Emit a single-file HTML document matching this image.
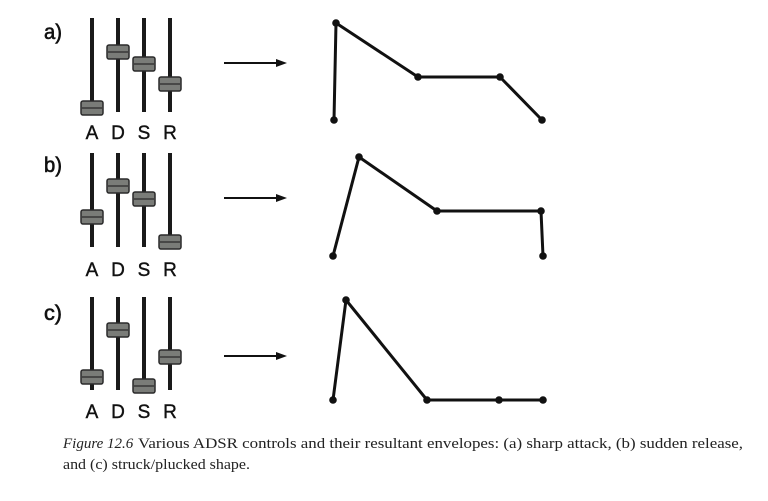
<!DOCTYPE html>
<html><head><meta charset="utf-8"><style>body{margin:0;background:#fff}svg{display:block}</style></head>
<body>
<svg width="768" height="501" viewBox="0 0 768 501" xmlns="http://www.w3.org/2000/svg">
<defs>
<g id="knob"><rect x="-11" y="-7" width="22" height="14" rx="2" fill="#7a7c78" stroke="#2a2a2a" stroke-width="1.5"/><line x1="-10" y1="0" x2="10" y2="0" stroke="#2a2a2a" stroke-width="1.2"/></g>
</defs>
<g font-family="Liberation Sans, sans-serif" font-size="21" fill="#111" stroke="#111" stroke-width="0.6">
<text x="44" y="39" textLength="18" lengthAdjust="spacingAndGlyphs">a)</text>
<text x="44" y="172" textLength="18" lengthAdjust="spacingAndGlyphs">b)</text>
<text x="44" y="320" textLength="18" lengthAdjust="spacingAndGlyphs">c)</text>
</g>
<g stroke="#1a1a1a" stroke-width="4">
<line x1="92" y1="18" x2="92" y2="112"/><line x1="118" y1="18" x2="118" y2="112"/><line x1="144" y1="18" x2="144" y2="112"/><line x1="170" y1="18" x2="170" y2="112"/>
<line x1="92" y1="153" x2="92" y2="247"/><line x1="118" y1="153" x2="118" y2="247"/><line x1="144" y1="153" x2="144" y2="247"/><line x1="170" y1="153" x2="170" y2="247"/>
<line x1="92" y1="297" x2="92" y2="390"/><line x1="118" y1="297" x2="118" y2="390"/><line x1="144" y1="297" x2="144" y2="390"/><line x1="170" y1="297" x2="170" y2="390"/>
</g>
<use href="#knob" x="92" y="108"/><use href="#knob" x="118" y="52"/><use href="#knob" x="144" y="64"/><use href="#knob" x="170" y="84"/>
<use href="#knob" x="92" y="217"/><use href="#knob" x="118" y="186"/><use href="#knob" x="144" y="199"/><use href="#knob" x="170" y="242"/>
<use href="#knob" x="92" y="377"/><use href="#knob" x="118" y="330"/><use href="#knob" x="144" y="386"/><use href="#knob" x="170" y="357"/>
<g font-family="Liberation Sans, sans-serif" font-size="19" fill="#111" stroke="#111" stroke-width="0.4" text-anchor="middle">
<text x="92" y="139">A</text><text x="118" y="139">D</text><text x="144" y="139">S</text><text x="170" y="139">R</text>
<text x="92" y="276">A</text><text x="118" y="276">D</text><text x="144" y="276">S</text><text x="170" y="276">R</text>
<text x="92" y="418">A</text><text x="118" y="418">D</text><text x="144" y="418">S</text><text x="170" y="418">R</text>
</g>
<g stroke="#111" stroke-width="2"><line x1="224" y1="63" x2="277" y2="63"/><line x1="224" y1="198" x2="277" y2="198"/><line x1="224" y1="356" x2="277" y2="356"/></g>
<g fill="#111"><polygon points="287,63 276,59 276,67"/><polygon points="287,198 276,194 276,202"/><polygon points="287,356 276,352 276,360"/></g>
<g fill="none" stroke="#111" stroke-width="3" stroke-linejoin="round">
<polyline points="334,120 336,23 418,77 500,77 542,120"/>
<polyline points="333,256 359,157 437,211 541,211 543,256"/>
<polyline points="333,400 346,300 427,400 499,400 543,400"/>
</g>
<g fill="#111">
<circle cx="334" cy="120" r="3.8"/><circle cx="336" cy="23" r="3.8"/><circle cx="418" cy="77" r="3.8"/><circle cx="500" cy="77" r="3.8"/><circle cx="542" cy="120" r="3.8"/>
<circle cx="333" cy="256" r="3.8"/><circle cx="359" cy="157" r="3.8"/><circle cx="437" cy="211" r="3.8"/><circle cx="541" cy="211" r="3.8"/><circle cx="543" cy="256" r="3.8"/>
<circle cx="333" cy="400" r="3.8"/><circle cx="346" cy="300" r="3.8"/><circle cx="427" cy="400" r="3.8"/><circle cx="499" cy="400" r="3.8"/><circle cx="543" cy="400" r="3.8"/>
</g>
<g font-family="Liberation Serif, serif" font-size="15" fill="#222">
<text x="63" y="448" font-style="italic">Figure 12.6</text>
<text x="138" y="448" textLength="605" lengthAdjust="spacingAndGlyphs">Various ADSR controls and their resultant envelopes: (a) sharp attack, (b) sudden release,</text>
<text x="63" y="469" textLength="187" lengthAdjust="spacingAndGlyphs">and (c) struck/plucked shape.</text>
</g>
</svg>
</body></html>
